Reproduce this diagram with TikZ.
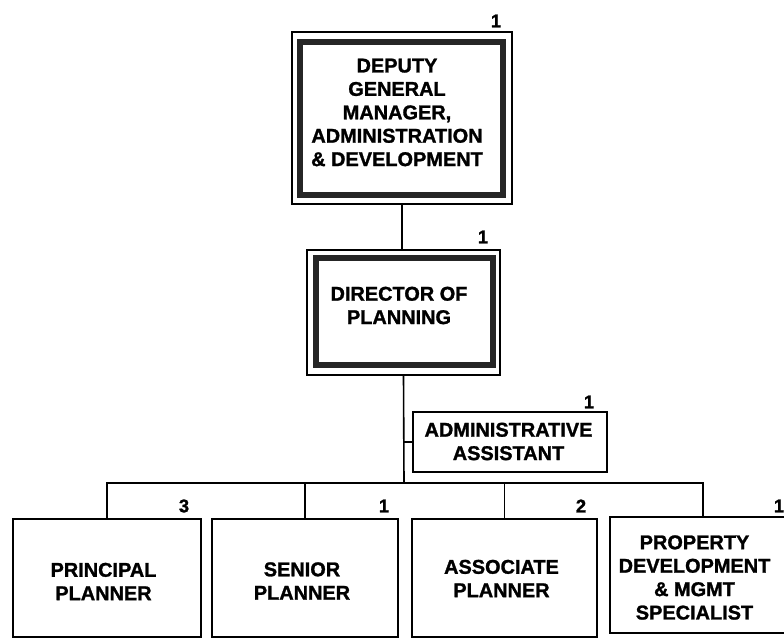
\documentclass[tikz,border=0pt]{standalone}
\usepackage{fontspec}
\setmainfont{Liberation Sans}
\newfontfamily\heavyfont{Liberation Sans Bold}[FakeBold=1.3]
\begin{document}
\begin{tikzpicture}[x=1bp,y=-1bp,
  box/.style={draw=black,line width=1.6bp,fill=white,inner sep=0pt,minimum width=#1},
  thick frame/.style={draw=black!85,line width=6.5bp,inner sep=0pt},
  conn/.style={draw=black,line width=1.6bp},
  txt/.style={inner sep=0pt,align=center,font=\heavyfont\fontsize{20}{23.5}\selectfont},
  num/.style={inner sep=0pt,font=\heavyfont\fontsize{18.5}{20}\selectfont}]
\useasboundingbox (0,0) rectangle (784,638);
\clip (0,0) rectangle (784,638);
\fill[white] (0,0) rectangle (784,638);

% boxes
\node[box=220bp,minimum height=172bp] (dep) at (402,118) {};
\node[thick frame,minimum width=203bp,minimum height=153bp] (depin) at (401.5,118.5) {};
\node[box=193bp,minimum height=125bp] (dir) at (403.5,312.5) {};
\node[thick frame,minimum width=177bp,minimum height=107bp] (dirin) at (404.5,311.5) {};
\node[box=194bp,minimum height=60bp] (adm) at (510,442) {};
\node[box=188bp,minimum height=118bp] (pp) at (107,578) {};
\node[box=186bp,minimum height=118bp] (ps) at (305,578) {};
\node[box=185bp,minimum height=118bp] (ap) at (504.5,578) {};
\node[box=186bp,minimum height=116bp] (pd) at (703,575) {};

% connectors
\coordinate (bus) at (404,483);
\draw[conn] (dep.south) -- (dep.south |- dir.north);
\draw[conn] (dir.south) -- (bus);
\draw[conn] (adm.west) -- (adm.west -| bus);
\draw[conn] (pp.north) |- (bus) -| (pd.north);
\draw[conn] (ps.north) -- (ps.north |- bus);
\draw[conn] (ap.north) -- (ap.north |- bus);

% texts
\node[txt] (tdep) at (397,112.5) {DEPUTY\\GENERAL\\MANAGER,\\ADMINISTRATION\\\& DEVELOPMENT};
\node[txt] (tdir) at (399,305.5) {DIRECTOR OF\\PLANNING};
\node[txt] (tadm) at (508.5,441.5) {ADMINISTRATIVE\\ASSISTANT};
\node[txt] (tpp) at (103.5,581.5) {PRINCIPAL\\PLANNER};
\node[txt] (tps) at (302,581) {SENIOR\\PLANNER};
\node[txt] (tap) at (501.5,578.5) {ASSOCIATE\\PLANNER};
\node[txt] (tpd) at (694.5,577.5) {PROPERTY\\DEVELOPMENT\\\& MGMT\\SPECIALIST};

% counts
\node[num] (ndep) at (496,21) {1};
\node[num] (ndir) at (483,237) {1};
\node[num] (nadm) at (589,402) {1};
\node[num] (npp) at (184,506) {3};
\node[num] (nps) at (384,506) {1};
\node[num] (nap) at (581,506) {2};
\node[num] (npd) at (779,506) {1};
\end{tikzpicture}
\end{document}
